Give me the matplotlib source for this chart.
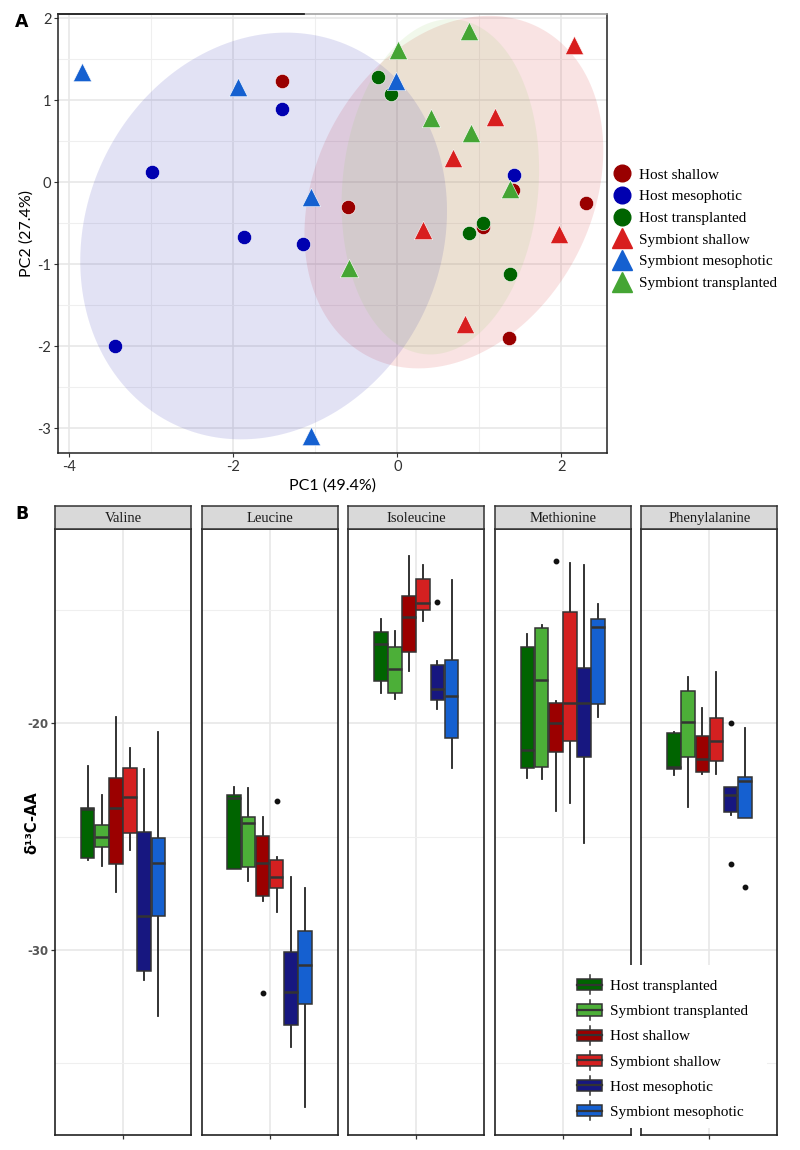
import numpy as np
import matplotlib
matplotlib.use("Agg")
import matplotlib.pyplot as plt
from matplotlib.patches import Rectangle
from matplotlib.lines import Line2D
from matplotlib.legend_handler import HandlerBase

plt.rcParams['axes.unicode_minus'] = False

# ---------------- Panel A : PCA ----------------
pca_groups = ["Host shallow", "Host mesophotic", "Host transplanted",
              "Symbiont shallow", "Symbiont mesophotic", "Symbiont transplanted"]
pca_colors = ["#990000", "#0000B0", "#006400", "#D81E1E", "#1560D0", "#45A534"]
pca_markers = ["o", "o", "o", "^", "^", "^"]

host_shallow_pc1 = [-1.40, -0.60, 1.04, 1.41, 2.30, 1.36]
host_shallow_pc2 = [1.23, -0.30, -0.55, -0.09, -0.25, -1.90]
host_meso_pc1 = [-1.40, -2.99, -1.87, -1.15, -3.44, 1.42]
host_meso_pc2 = [0.89, 0.12, -0.67, -0.75, -2.00, 0.09]
host_transp_pc1 = [-0.23, -0.08, 1.04, 0.88, 1.38]
host_transp_pc2 = [1.28, 1.08, -0.50, -0.62, -1.12]
symb_shallow_pc1 = [2.16, 1.19, 0.68, 0.31, 1.97, 0.82]
symb_shallow_pc2 = [1.68, 0.80, 0.29, -0.58, -0.63, -1.73]
symb_meso_pc1 = [-3.84, -1.94, -0.01, -1.05, -1.05]
symb_meso_pc2 = [1.34, 1.16, 1.24, -0.18, -3.09]
symb_transp_pc1 = [0.87, 0.01, 0.41, 0.90, 1.37, -0.59]
symb_transp_pc2 = [1.84, 1.61, 0.78, 0.60, -0.08, -1.04]

pc1_values = [host_shallow_pc1, host_meso_pc1, host_transp_pc1,
              symb_shallow_pc1, symb_meso_pc1, symb_transp_pc1]
pc2_values = [host_shallow_pc2, host_meso_pc2, host_transp_pc2,
              symb_shallow_pc2, symb_meso_pc2, symb_transp_pc2]

# site ellipses: centre, variances and covariance of the boundary
ellipse_sites = ["shallow", "mesophotic", "transplanted"]
ellipse_center_pc1 = [0.69, -1.63, 0.525]
ellipse_center_pc2 = [-0.12, -0.655, -0.055]
ellipse_var_pc1 = [3.32, 5.00, 1.45]
ellipse_var_pc2 = [4.62, 6.15, 4.18]
ellipse_cov = [0.93, 0.68, 0.25]
ellipse_fill = ["#D51E1E", "#1616AC", "#8DCB5F"]

# ---------------- Panel B : boxplots ----------------
amino_acids = ["Valine", "Leucine", "Isoleucine", "Methionine", "Phenylalanine"]
box_groups = ["Host transplanted", "Symbiont transplanted", "Host shallow",
              "Symbiont shallow", "Host mesophotic", "Symbiont mesophotic"]
box_colors = ["#006400", "#4CAF38", "#9B0000", "#D42020", "#171780", "#1560D0"]

whisker_low = [
    [-26.03, -26.29, -27.43, -25.59, -31.32, -32.91],
    [-26.44, -26.94, -27.84, -28.31, -34.29, -36.91],
    [-18.68, -18.94, -17.68, -15.47, -19.38, -21.99],
    [-22.40, -22.47, -23.87, -23.50, -25.26, -19.74],
    [-22.28, -23.68, -22.25, -22.24, -24.04, -24.19],
]
quart1 = [
    [-25.96, -25.44, -26.22, -24.82, -30.93, -28.50],
    [-26.41, -26.32, -27.60, -27.28, -33.31, -32.40],
    [-18.13, -18.68, -16.85, -15.00, -18.97, -20.66],
    [-21.99, -21.91, -21.28, -20.76, -21.50, -19.15],
    [-22.01, -21.50, -22.13, -21.65, -23.93, -24.19],
]
medians = [
    [-23.80, -25.00, -23.72, -23.24, -28.50, -26.15],
    [-23.30, -24.41, -26.18, -26.76, -31.87, -30.66],
    [-16.50, -17.60, -15.29, -14.71, -18.49, -18.78],
    [-21.18, -18.09, -20.00, -19.09, -19.12, -15.74],
    [-21.95, -19.96, -21.57, -20.76, -23.16, -22.54],
]
quart3 = [
    [-23.75, -24.49, -22.43, -21.96, -24.81, -25.04],
    [-23.16, -24.12, -24.97, -26.03, -30.07, -29.16],
    [-15.96, -16.62, -14.38, -13.65, -17.43, -17.21],
    [-16.65, -15.81, -19.12, -15.07, -17.54, -15.40],
    [-20.44, -18.56, -20.54, -19.78, -22.82, -22.37],
]
whisker_high = [
    [-21.88, -23.18, -19.74, -21.07, -22.01, -20.37],
    [-22.79, -22.87, -24.15, -25.91, -26.79, -27.25],
    [-15.41, -15.93, -12.62, -13.04, -17.25, -13.68],
    [-16.06, -15.66, -19.01, -12.91, -13.04, -14.75],
    [-20.40, -17.97, -19.34, -17.72, -22.79, -20.19],
]
outlier_acid = ["Leucine", "Leucine", "Isoleucine", "Methionine",
                "Phenylalanine", "Phenylalanine", "Phenylalanine"]
outlier_group = ["Host shallow", "Symbiont shallow", "Host mesophotic", "Host shallow",
                 "Host mesophotic", "Host mesophotic", "Symbiont mesophotic"]
outlier_value = [-31.91, -23.44, -14.63, -12.82, -20.00, -26.22, -27.21]

# ---------------- figure ----------------
FW, FH = 800, 1150
fig = plt.figure(figsize=(FW / 100, FH / 100), dpi=100)


def rect(l, t, r, b):
    return [l / FW, 1 - b / FH, (r - l) / FW, (b - t) / FH]


SANS = ["Lato", "DejaVu Sans"]
SERIF = ["Liberation Serif", "DejaVu Serif"]
EDGE = "#333333"

# ---- Panel A ----
axA = fig.add_axes(rect(58.3, 14, 607.3, 453.3))
axA.set_xlim(-4.134, 2.561)
axA.set_ylim(-3.305, 2.052)
axA.set_xticks([-4, -2, 0, 2])
axA.set_xticks([-3, -1, 1], minor=True)
axA.set_yticks([-3, -2, -1, 0, 1, 2])
axA.set_yticks([-2.5, -1.5, -0.5, 0.5, 1.5], minor=True)
axA.grid(which="major", color="#E6E6E6", lw=1.1)
axA.grid(which="minor", color="#EFEFEF", lw=0.8)
axA.set_axisbelow(True)
axA.tick_params(which="major", length=3, width=0.8, color=EDGE, labelsize=10.5,
                labelcolor="#333333", pad=2)
axA.tick_params(which="minor", length=0)
for lab in axA.get_xticklabels() + axA.get_yticklabels():
    lab.set_family(SANS)
for sp in axA.spines.values():
    sp.set_color("#222222")
    sp.set_linewidth(1.1)
axA.spines["top"].set_color("#9A9A9A")
axA.plot([0, 0.448], [1, 1], transform=axA.transAxes, color="#222222", lw=1.3,
         clip_on=False, zorder=5)

t = np.linspace(0, 2 * np.pi, 300)
for k in range(len(ellipse_sites)):
    S = np.array([[ellipse_var_pc1[k], ellipse_cov[k]],
                  [ellipse_cov[k], ellipse_var_pc2[k]]])
    L = np.linalg.cholesky(S)
    pts = L @ np.vstack([np.cos(t), np.sin(t)])
    axA.fill(ellipse_center_pc1[k] + pts[0], ellipse_center_pc2[k] + pts[1],
             facecolor=ellipse_fill[k], alpha=0.12, edgecolor="none", zorder=1)

for g in range(len(pca_groups)):
    s = 105 if pca_markers[g] == "o" else 175
    axA.scatter(pc1_values[g], pc2_values[g], s=s, marker=pca_markers[g],
                color=pca_colors[g], edgecolors="white", linewidths=0.4, zorder=3 + g)

axA.set_xlabel("PC1 (49.4%)", family=SANS, fontsize=11.5, labelpad=3)
axA.set_ylabel("PC2 (27.4%)", family=SANS, fontsize=11.5, labelpad=3)

handlesA = [Line2D([], [], marker=pca_markers[g], color=pca_colors[g], linestyle="none",
                   markersize=12 if pca_markers[g] == "o" else 14)
            for g in range(len(pca_groups))]
fig.legend(handlesA, pca_groups, loc="upper left",
           bbox_to_anchor=(611 / FW, 1 - 168 / FH), frameon=False,
           prop={"family": SERIF, "size": 11}, handlelength=1.5, handletextpad=0.35,
           labelspacing=0.52, borderpad=0, borderaxespad=0)

fig.text(22 / FW, 1 - 22 / FH, "A", fontweight="bold", fontsize=12.5,
         family=["DejaVu Sans"], ha="center", va="center")

# ---- Panel B ----
offsets = np.array([-0.3125, -0.1875, -0.0625, 0.0625, 0.1875, 0.3125])
for i, aa in enumerate(amino_acids):
    left = 55 + i * 146.6
    ax = fig.add_axes(rect(left, 529, left + 136, 1134.5))
    sax = fig.add_axes(rect(left, 505.7, left + 136, 529))
    stats = []
    for g, grp in enumerate(box_groups):
        fl = [outlier_value[k] for k in range(len(outlier_value))
              if outlier_acid[k] == aa and outlier_group[k] == grp]
        stats.append(dict(whislo=whisker_low[i][g], q1=quart1[i][g], med=medians[i][g],
                          q3=quart3[i][g], whishi=whisker_high[i][g], fliers=fl))
    bp = ax.bxp(stats, positions=1 + offsets, widths=0.12, patch_artist=True,
                showcaps=False, manage_ticks=False,
                boxprops=dict(edgecolor=EDGE, linewidth=1.1),
                whiskerprops=dict(color="#222222", linewidth=1.3),
                medianprops=dict(color=EDGE, linewidth=1.8),
                flierprops=dict(marker="o", markerfacecolor="#111111",
                                markeredgecolor="#111111", markersize=3.2))
    for patch, col in zip(bp["boxes"], box_colors):
        patch.set_facecolor(col)
    for w in bp["whiskers"]:
        w.set_zorder(1.5)
    ax.set_xlim(0.4, 1.6)
    ax.set_ylim(-38.14, -11.43)
    ax.set_xticks([1])
    ax.set_xticklabels([])
    ax.set_yticks([-20, -30])
    ax.set_yticks([-15, -25, -35], minor=True)
    ax.grid(which="major", color="#E6E6E6", lw=1.1)
    ax.grid(which="minor", color="#EFEFEF", lw=0.8)
    ax.set_axisbelow(True)
    ax.tick_params(axis="x", length=3, width=0.9, color=EDGE)
    ax.tick_params(which="minor", length=0)
    if i == 0:
        ax.set_yticklabels(["-20", "-30"])
        ax.tick_params(axis="y", length=3, width=0.9, color=EDGE, labelsize=8.5,
                       labelcolor="#555555", pad=2)
        for lab in ax.get_yticklabels():
            lab.set_fontweight("bold")
    else:
        ax.tick_params(axis="y", left=False, labelleft=False)
    for sp in ax.spines.values():
        sp.set_color("#222222")
        sp.set_linewidth(1.2)

    sax.set_facecolor("#D9D9D9")
    sax.set_xticks([])
    sax.set_yticks([])
    for sp in sax.spines.values():
        sp.set_color(EDGE)
        sp.set_linewidth(1.1)
    sax.text(0.5, 0.47, aa, transform=sax.transAxes, ha="center", va="center",
             family=SERIF, fontsize=10.5, color="#1A1A1A")

fig.text(22 / FW, 1 - 514 / FH, "B", fontweight="bold", fontsize=12.5,
         family=["DejaVu Sans"], ha="center", va="center")
fig.text(32 / FW, 1 - 823 / FH, "δ¹³C-AA", rotation=90, fontweight="bold",
         fontsize=10.5, family=["DejaVu Sans"], ha="center", va="center")

# white legend background over the panels
fig.add_artist(Rectangle((570 / FW, 1 - 1128 / FH), (767 - 570) / FW, (1128 - 965) / FH,
                         transform=fig.transFigure, facecolor="white",
                         edgecolor="none", zorder=5))


class BoxKey(HandlerBase):
    def create_artists(self, legend, orig, xdescent, ydescent, width, height,
                       fontsize, trans):
        fc = orig.get_facecolor()
        x0 = -xdescent
        bh = height * 0.95
        y0 = -ydescent + (height - bh) / 2
        wl = height * 0.35
        xm = x0 + width / 2
        w1 = Line2D([xm, xm], [y0 + bh, y0 + bh + wl], color=EDGE, lw=1.1, transform=trans)
        w2 = Line2D([xm, xm], [y0 - wl, y0], color=EDGE, lw=1.1, transform=trans)
        r = Rectangle((x0, y0), width, bh, facecolor=fc, edgecolor=EDGE, lw=1.1,
                      transform=trans)
        m = Line2D([x0, x0 + width], [y0 + bh / 2] * 2, color=EDGE, lw=1.6, transform=trans)
        return [w1, w2, r, m]


handlesB = [Rectangle((0, 0), 1, 1, facecolor=c) for c in box_colors]
legB = fig.legend(handlesB, box_groups, loc="upper left",
                  bbox_to_anchor=(577 / FW, 1 - 979 / FH), frameon=False,
                  prop={"family": SERIF, "size": 11}, handlelength=1.65,
                  handleheight=0.8, handletextpad=0.5, labelspacing=0.72,
                  borderpad=0, borderaxespad=0,
                  handler_map={Rectangle: BoxKey()})
legB.set_zorder(6)

fig.savefig("out.png", dpi=100)
